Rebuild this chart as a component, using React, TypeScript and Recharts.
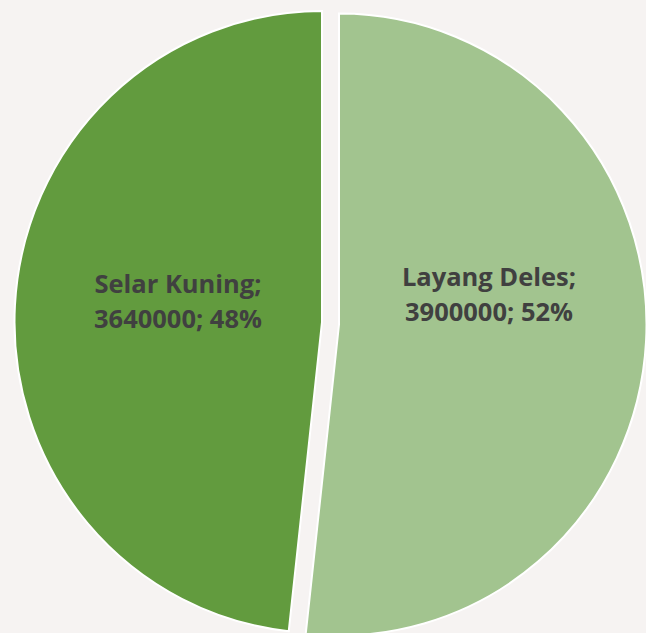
import { PieChart, Pie, Cell } from "recharts";

// share of catch by species
const species = ["Layang Deles", "Selar Kuning"];
const volumes = [3900000, 3640000];
const percents = ["52%", "48%"];

const rows = species.map((name, i) => ({ name, value: volumes[i], pct: percents[i] }));

const COLORS = ["#a2c48f", "#629b3e"];
const BG = "#f6f3f2";
const W = 646;
const H = 633;
const R = 307.5;
// source image is stretched a little vertically
const STRETCH = 1.0114;

// exploded slices: each pie owns one visible slice
const CENTERS = [
  { cx: 339, cy: 320.9 },
  { cx: 322, cy: 318.4 },
];
// label anchor relative to slice centre (Excel best-fit placement)
const LABEL_OFFSET = [
  { dx: 150, dy: -38 },
  { dx: -144, dy: -29 },
];

function makeLabel(visible: number) {
  return function SliceLabel(props: any) {
    const { index, name, value, payload } = props;
    if (index !== visible) return null;
    const c = CENTERS[visible];
    const o = LABEL_OFFSET[visible];
    const x = c.cx + o.dx;
    const y = c.cy + o.dy;
    return (
      <text
        x={x}
        y={y}
        textAnchor="middle"
        fill="#404040"
        fontFamily="'Open Sans', sans-serif"
        fontWeight={700}
        fontSize={25.5}
      >
        <tspan x={x} dy={0}>{`${name};`}</tspan>
        <tspan x={x} dy={34.6}>{`${value}; ${payload.pct}`}</tspan>
      </text>
    );
  };
}

export default function App() {
  return (
    <div
      style={{
        position: "fixed",
        left: 0,
        top: 0,
        width: W,
        height: H,
        background: BG,
        overflow: "hidden",
      }}
    >
      <div style={{ transform: `scaleY(${STRETCH})`, transformOrigin: "top left" }}>
        <PieChart width={W} height={H} margin={{ top: 0, right: 0, bottom: 0, left: 0 }}>
          {CENTERS.map((c, p) => (
            <Pie
              key={p}
              data={rows}
              dataKey="value"
              nameKey="name"
              cx={c.cx}
              cy={c.cy}
              outerRadius={R}
              startAngle={90}
              endAngle={-270}
              labelLine={false}
              label={makeLabel(p)}
              isAnimationActive={false}
            >
              {rows.map((r, i) => (
                <Cell
                  key={r.name}
                  fill={i === p ? COLORS[i] : "transparent"}
                  stroke={i === p ? "#ffffff" : "none"}
                  strokeWidth={2}
                />
              ))}
            </Pie>
          ))}
        </PieChart>
      </div>
    </div>
  );
}
